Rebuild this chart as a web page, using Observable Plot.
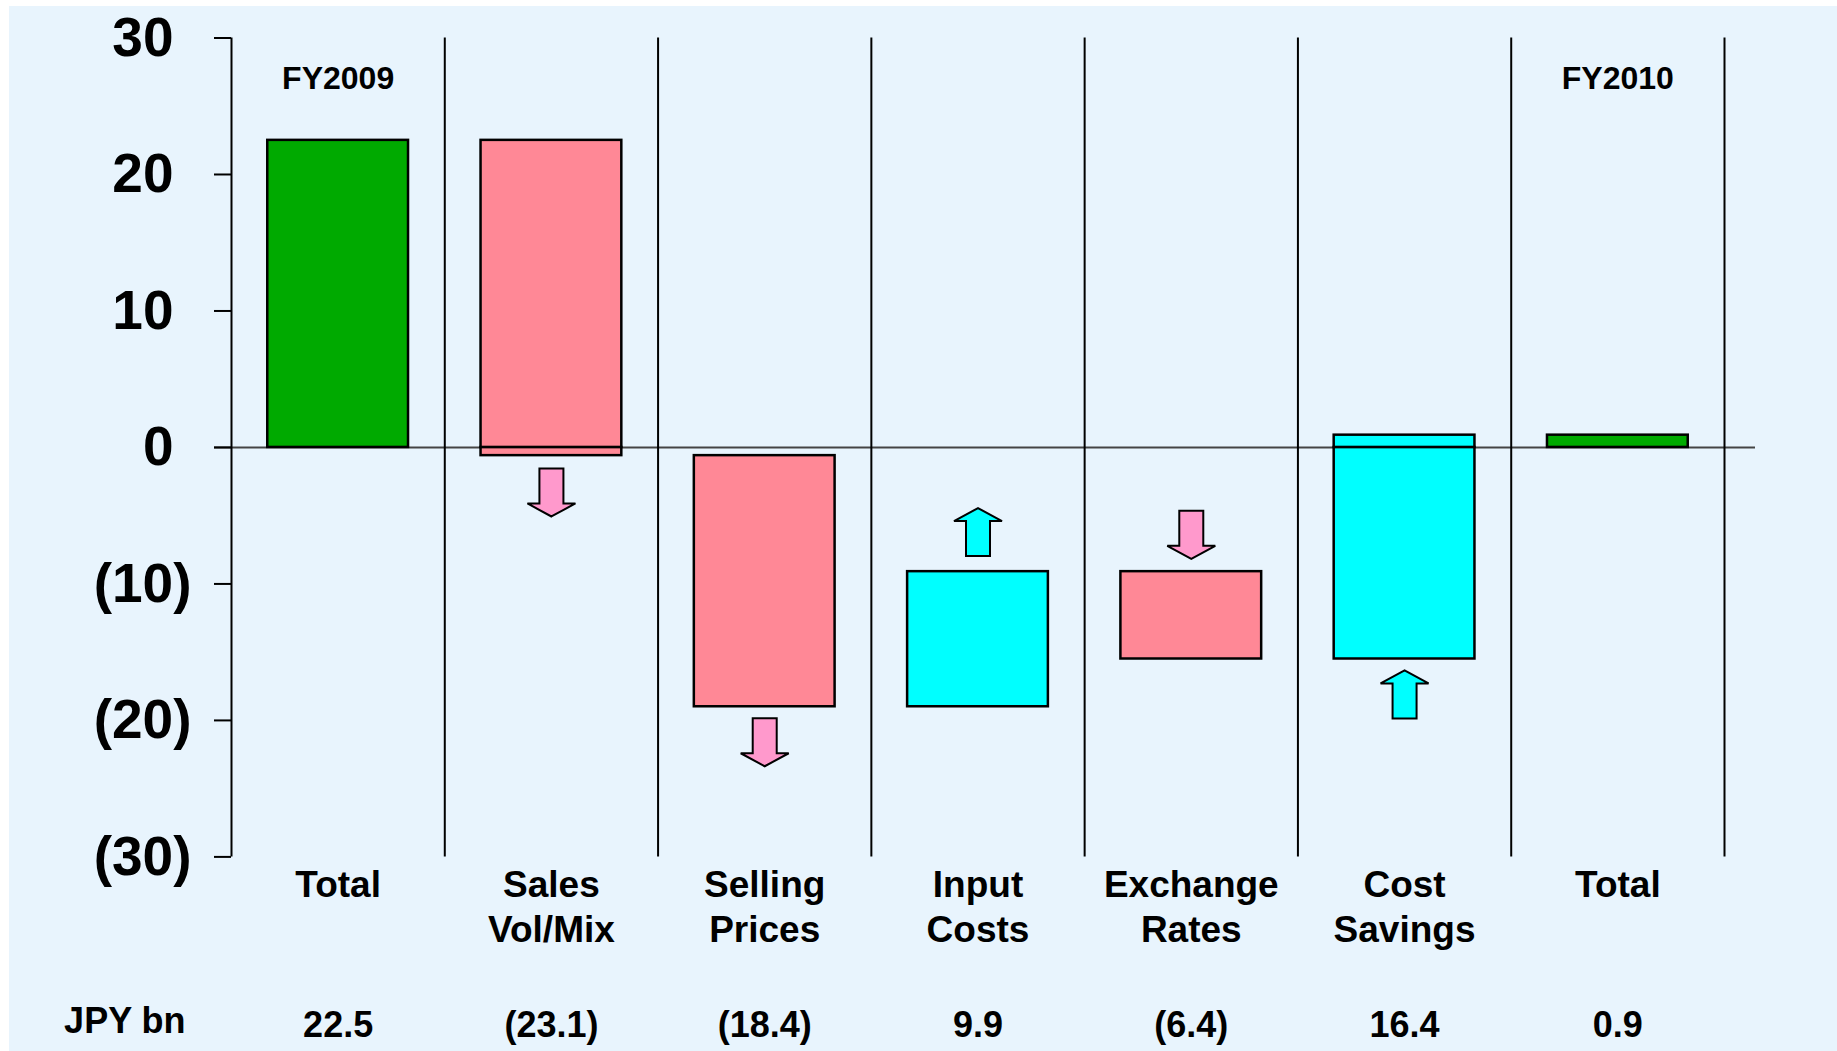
<!DOCTYPE html>
<html><head><meta charset="utf-8">
<script src="https://cdn.jsdelivr.net/npm/d3@7"></script>
<script src="https://cdn.jsdelivr.net/npm/@observablehq/plot@0.6"></script>
<style>
html,body{margin:0;padding:0;background:#fff;overflow:hidden;}
#chart{position:absolute;left:9px;top:6px;width:1828px;height:1045px;background:#E8F4FD;}
</style></head><body><div id="chart"></div>
<script>
// ---- data ----
const categories = ["Total","Sales\nVol/Mix","Selling\nPrices","Input\nCosts","Exchange\nRates","Cost\nSavings","Total"];
const values = [22.5, -23.1, -18.4, 9.9, -6.4, 16.4, 0.9];
const isTotal = [true, false, false, false, false, false, true];
const periodLabels = ["FY2009", "", "", "", "", "", "FY2010"];
const periodLabelY = 27;
const arrowY = [null, -3.3, -21.6, -6.2, -6.4, -18.1, null];
const yTicksPos = [0, 10, 20, 30];
const yTicksNeg = [-30, -20, -10];
const unitLabel = "JPY bn";

const colors = {total: "#00AA00", down: "#FF8896", up: "#00FFFF", downArrow: "#FF99CC", upArrow: "#00FFFF"};
const fmt = v => v < 0 ? `(${(-v).toFixed(1)})` : v.toFixed(1);

// ---- waterfall ----
let run = 0;
const steps = values.map((v, i) => {
  let lo, hi;
  if (isTotal[i]) { lo = Math.min(0, v); hi = Math.max(0, v); run = v; }
  else { const s = run; run = s + v; lo = Math.min(s, run); hi = Math.max(s, run); }
  return {i, lo, hi, v, kind: isTotal[i] ? "total" : v < 0 ? "down" : "up"};
});
const segments = [];
for (const s of steps) {
  if (s.lo < 0 && s.hi > 0) {
    segments.push({...s, a: s.lo, b: 0});
    segments.push({...s, a: 0, b: s.hi});
  } else segments.push({...s, a: s.lo, b: s.hi});
}
const arrows = steps.filter(s => arrowY[s.i] != null).map(s => ({i: s.i, y: arrowY[s.i], dir: s.v < 0 ? -1 : 1}));

function arrowSymbol(dir) {
  return {draw(ctx) {
    const H = 48, hh = 13, sw = 12, hw = 24;
    const t = -H / 2, b = H / 2;
    if (dir > 0) {
      ctx.moveTo(0, t); ctx.lineTo(hw, t + hh); ctx.lineTo(sw, t + hh); ctx.lineTo(sw, b);
      ctx.lineTo(-sw, b); ctx.lineTo(-sw, t + hh); ctx.lineTo(-hw, t + hh); ctx.closePath();
    } else {
      ctx.moveTo(0, b); ctx.lineTo(hw, b - hh); ctx.lineTo(sw, b - hh); ctx.lineTo(sw, t);
      ctx.lineTo(-sw, t); ctx.lineTo(-sw, b - hh); ctx.lineTo(-hw, b - hh); ctx.closePath();
    }
  }};
}

const font = "'Liberation Sans', Arial, sans-serif";
const yAxisOpts = {tickSize: 17, fontSize: 55, fontWeight: "bold", stroke: "#000", strokeWidth: 2, label: null,
  tickFormat: d => d < 0 ? `(${-d})` : `${d}`};
const chart = Plot.plot({
  width: 1828, height: 1045,
  marginLeft: 222, marginRight: 113, marginTop: 31.5, marginBottom: 194.6,
  style: {fontFamily: font, background: "#E8F4FD", color: "black"},
  x: {domain: [0, categories.length], axis: null},
  y: {domain: [-30, 30], axis: null},
  color: {type: "identity"},
  marks: [
    Plot.ruleY([0], {stroke: "#444", strokeWidth: 2, insetLeft: -17, insetRight: -31}),
    Plot.ruleX(d3.range(categories.length + 1), {y1: -30, y2: 30, stroke: "#000", strokeWidth: 2}),
    Plot.rectY(segments, {x1: d => d.i + 0.17, x2: d => d.i + 0.83, y1: "a", y2: "b",
      fill: d => colors[d.kind], stroke: "#000", strokeWidth: 2.5}),
    Plot.dot(arrows.filter(d => d.dir > 0), {x: d => d.i + 0.5, y: "y", symbol: arrowSymbol(1),
      fill: colors.upArrow, stroke: "#000", strokeWidth: 2}),
    Plot.dot(arrows.filter(d => d.dir < 0), {x: d => d.i + 0.5, y: "y", symbol: arrowSymbol(-1),
      fill: colors.downArrow, stroke: "#000", strokeWidth: 2}),
    Plot.axisY({...yAxisOpts, ticks: yTicksPos, tickPadding: 41}),
    Plot.axisY({...yAxisOpts, ticks: yTicksNeg, tickPadding: 23}),
    Plot.text(periodLabels.map((t, i) => ({t, i})).filter(d => d.t), {x: d => d.i + 0.5, y: () => periodLabelY,
      text: "t", fontSize: 32, fontWeight: "bold"}),
    Plot.text(steps, {x: d => d.i + 0.5, text: d => categories[d.i], frameAnchor: "bottom", lineAnchor: "top",
      dy: 8, fontSize: 37, fontWeight: "bold", lineHeight: 1.22}),
    Plot.text(steps, {x: d => d.i + 0.5, text: d => fmt(d.v), frameAnchor: "bottom", lineAnchor: "top",
      dy: 155, fontSize: 36, fontWeight: "bold"}),
    Plot.text([unitLabel], {text: d => d, frameAnchor: "bottom-left", textAnchor: "end", lineAnchor: "top",
      dx: -46, dy: 151, fontSize: 36, fontWeight: "bold"})
  ]
});
document.getElementById("chart").appendChild(chart);
</script></body></html>
